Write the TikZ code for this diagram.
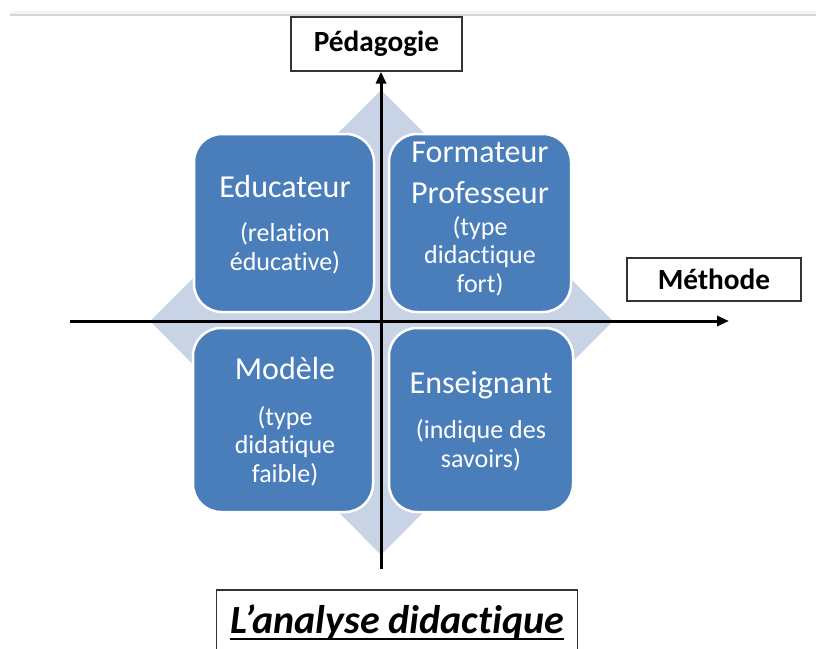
\documentclass[tikz,border=0pt]{standalone}
\usepackage{fontspec}
\setmainfont{Carlito}[Ligatures=NoCommon]
\usetikzlibrary{arrows.meta, positioning}

\definecolor{quadblue}{RGB}{74,126,187}
\definecolor{diamblue}{RGB}{200,212,230}

\tikzset{
  quad/.style={rounded corners=28pt, fill=quadblue, draw=white, line width=2.5pt},
  qtitle/.style={text=white, align=center, inner sep=0pt, font=\fontsize{32}{41}\selectfont},
  qsub/.style={text=white, align=center, inner sep=0pt, font=\fontsize{26}{28.5}\selectfont},
  axislabel/.style={draw=black!80, line width=1.2pt, fill=white, font=\bfseries\fontsize{29.3}{33}\selectfont},
  axis/.style={line width=3pt, -{Triangle[length=12pt,width=10pt]}}
}

\begin{document}
\begin{tikzpicture}[x=1pt, y=-1pt]
  \useasboundingbox (0,0) rectangle (816,648);
  \fill[black!4] (10,11) rectangle (816,14);
  \fill[black!16] (10,14) rectangle (816,15.5);

  % diamond behind the four boxes
  \coordinate (top) at (381,90);
  \coordinate (right) at (613,321);
  \coordinate (bottom) at (381,555);
  \coordinate (left) at (150,321);
  \fill[diamblue] (top) -- (right) -- (bottom) -- (left) -- cycle;

  \node[quad, minimum width=180, minimum height=178] (edu) at (284,223) {};
  \node[quad, minimum width=182, minimum height=178] (form) at (480,223) {};
  \node[quad, minimum width=180, minimum height=184] (mod) at (283,420) {};
  \node[quad, minimum width=184, minimum height=184] (ens) at (481,420) {};

  % base = baseline of the last line
  \node[qtitle, anchor=base] (edu-t) at (285,197) {Educateur};
  \node[qsub, anchor=base] (edu-s) at (285,270) {(relation\\éducative)};
  \node[qtitle, anchor=base] (form-t) at (480,203) {Formateur\\Professeur};
  \node[qsub, anchor=base] (form-s) at (480,292) {(type\\didactique\\fort)};
  \node[qtitle, anchor=base] (mod-t) at (285,379) {Modèle};
  \node[qsub, anchor=base] (mod-s) at (285,482) {(type\\didatique\\faible)};
  \node[qtitle, anchor=base] (ens-t) at (481,393) {Enseignant};
  \node[qsub, anchor=base] (ens-s) at (481,467) {(indique des\\savoirs)};

  % axes
  \node[axislabel, minimum width=171, minimum height=54] (ped) at (376.5,44) {Pédagogie};
  \node[axislabel, minimum width=174, minimum height=43] (meth) at (714,279.5) {Méthode};
  \coordinate (vbot) at (381,569);
  \coordinate (hl) at (70,321);
  \coordinate (hr) at (729,321);
  \draw[axis] (vbot) -- (vbot |- ped.south);
  \draw[axis] (hl) -- (hr);

  % title
  \node[draw=black!80, line width=1.2pt, anchor=base, inner xsep=14pt, inner ysep=0pt,
        text height=43pt, text depth=40pt, font=\bfseries\itshape\fontsize{40}{44}\selectfont]
        (ttl) at (397,633) {L’analyse didactique};
  \draw[line width=2.2pt] ([xshift=14,yshift=-6]ttl.base west) -- ([xshift=-14,yshift=-6]ttl.base east);
\end{tikzpicture}
\end{document}
